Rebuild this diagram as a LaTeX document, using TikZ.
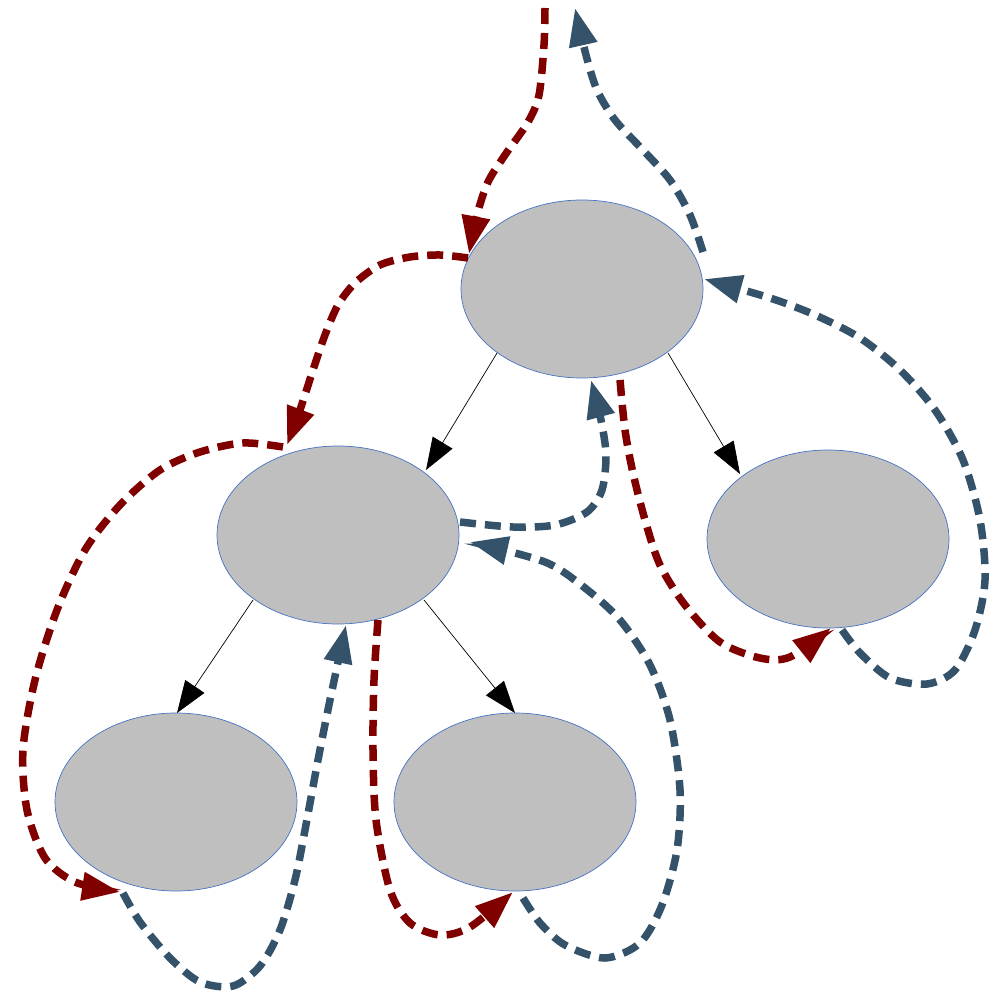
\documentclass[tikz,border=0pt]{standalone}
\usetikzlibrary{arrows.meta,calc,shapes.geometric}
\definecolor{redpath}{RGB}{128,0,0}
\definecolor{bluepath}{RGB}{52,82,106}
\definecolor{nodefill}{RGB}{191,191,191}
\definecolor{nodeline}{RGB}{68,114,196}
\tikzset{
  treenode/.style={ellipse, draw=nodeline, fill=nodefill, line width=0.7pt, minimum width=242pt, minimum height=178pt, inner sep=0pt},
  treeedge/.style={draw=black, line width=0.7pt, -{Triangle[length=32pt,width=23pt]}},
  walk/.style={line width=7.5pt, dash pattern=on 16pt off 9pt, -{Triangle[length=38pt,width=27pt]}},
  down/.style={walk, draw=redpath},
  up/.style={walk, draw=bluepath},
}
\begin{document}
\begin{tikzpicture}[x=1pt,y=-1pt]
\path[use as bounding box] (0,0) rectangle (994,995);
\node[treenode] (A) at (582,289) {};
\node[treenode] (B) at (338,535) {};
\node[treenode] (C) at (828,539) {};
\node[treenode] (D) at (176,802) {};
\node[treenode] (E) at (515,802) {};
\coordinate (top1) at (545,8);
\coordinate (top2) at (575,8);
% tree edges
\draw[treeedge] ($(A)+(-85,64)$) -- ($(B)+(88,-65)$);
\draw[treeedge] ($(A)+(86,64)$) -- ($(C)+(-88,-65)$);
\draw[treeedge] ($(B)+(-85,65)$) -- ($(D)+(1,-89)$);
\draw[treeedge] ($(B)+(86,65)$) -- ($(E)+(0,-89)$);
% red (descending) paths
\draw[down] plot[smooth] coordinates {(top1) (544,45) (539,95) (528,122) (505,155) (488,182) (477,215) ($(A)+(-113,-35)$)};
\draw[down] plot[smooth] coordinates {($(A)+(-114,-31)$) (440,255) (410,257) (380,265) (355,283) (338,305) (325,335) (313,370) (300,410) ($(B)+(-51,-90)$)};
\draw[down] plot[smooth] coordinates {($(B)+(-55,-88)$) (243,443) (200,452) (160,470) (120,505) (85,550) (57,610) (35,680) (23,750) (27,810) (45,858) (75,882) ($(D)+(-56,90)$)};
\draw[down] plot[smooth] coordinates {($(B)+(40,85)$) (374,680) (373,750) (376,820) (390,890) (410,923) (440,935) (470,927) ($(E)+(-2,90)$)};
\draw[down] plot[smooth] coordinates {($(A)+(38,91)$) (625,430) (633,473) (645,520) (660,565) (685,605) (720,642) (760,658) (790,657) ($(C)+(3,89)$)};
% blue (ascending) paths
\draw[up] plot[smooth] coordinates {($(C)+(14,91)$) (860,653) (890,678) (927,684) (955,670) (975,630) (985,580) (980,520) (963,460) (935,410) (900,370) (860,338) (815,315) (770,298) ($(A)+(122,-10)$)};
\draw[up] plot[smooth] coordinates {($(E)+(8,96)$) (540,923) (565,945) (605,958) (640,943) (662,905) (677,850) (680,790) (670,720) (650,665) (620,620) (585,588) (545,562) ($(B)+(132,7)$)};
\draw[up] plot[smooth] coordinates {($(D)+(-53,91)$) (140,922) (170,958) (200,982) (233,986) (260,966) (280,930) (295,880) (305,830) (318,760) (330,700) ($(B)+(8,90)$)};
\draw[up] plot[smooth] coordinates {($(B)+(122,-13)$) (513,527) (555,525) (587,512) (602,490) (606,455) (601,420) ($(A)+(9,91)$)};
\draw[up] plot[smooth] coordinates {($(A)+(121,-37)$) (690,215) (670,180) (640,147) (615,120) (597,90) (586,55) (top2)};
\end{tikzpicture}
\end{document}
